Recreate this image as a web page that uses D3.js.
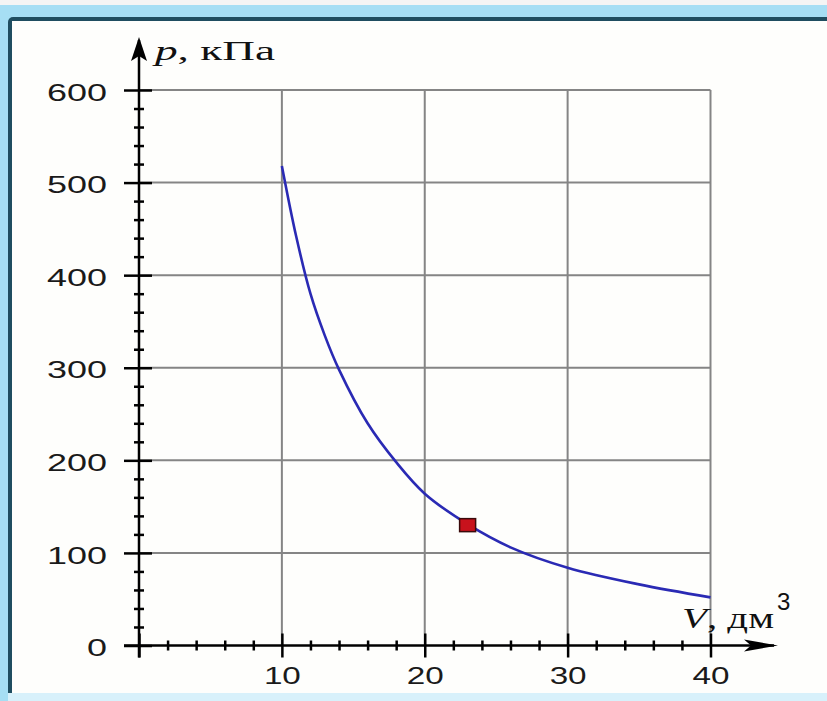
<!DOCTYPE html>
<html>
<head>
<meta charset="utf-8">
<title>p(V)</title>
<script src="https://d3js.org/d3.v7.min.js"></script>
<style>
body { margin: 0; background: #f4f4f4; }
.grid line { stroke: #858585; stroke-width: 2; }
.axis path, .axis line { stroke: #000; stroke-width: 2.5; }
.axis text { font-family: "Liberation Sans", Arial, sans-serif; font-size: 24px; fill: #1a1a1a; }
.curve { fill: none; stroke: #2a2ab4; stroke-width: 2.6; }
</style>
</head>
<body>
<div id="chart"></div>
<script>
// values
var volume   = [10, 11, 12, 13, 14, 16, 18, 20, 23, 26, 30, 35, 40];   // V, dm3
var pressure = [518, 442, 380, 335, 298, 240, 198, 164, 131, 106, 84, 66, 52]; // p, kPa
var markerPoint = [23, 130];
var xMajor = [0, 10, 20, 30, 40];
var yMajor = [0, 100, 200, 300, 400, 500, 600];
var xMinor = [2, 4, 6, 8, 12, 14, 16, 18, 22, 24, 26, 28, 32, 34, 36, 38];
var yMinor = [20, 40, 60, 80, 120, 140, 160, 180, 220, 240, 260, 280, 320, 340, 360, 380, 420, 440, 460, 480, 520, 540, 560, 580];

var W = 827, H = 701;
var svg = d3.select("#chart").append("svg")
    .attr("width", W).attr("height", H);

// the frame round the picture
svg.append("rect").attr("x", 0).attr("y", 5).attr("width", W).attr("height", H - 5)
    .attr("fill", "#a6def4");
svg.append("rect").attr("x", 8).attr("y", 17).attr("width", W).attr("height", 690)
    .attr("rx", 5).attr("fill", "#1f4d60");
svg.append("rect").attr("x", 12).attr("y", 21).attr("width", W - 12).attr("height", 672)
    .attr("fill", "#fefefc");
svg.append("rect").attr("x", 0).attr("y", 693).attr("width", W).attr("height", 8)
    .attr("fill", "#d8f1fb");
svg.append("rect").attr("x", 0).attr("y", 693).attr("width", 8).attr("height", 8)
    .attr("fill", "#a6def4");

// scales
var x = d3.scaleLinear().domain([0, 40]).range([139, 710.5]);
var y = d3.scaleLinear().domain([0, 600]).range([645.5, 90]);

// grid
var grid = svg.append("g").attr("class", "grid");
grid.selectAll(".gv").data(xMajor.slice(1)).enter().append("line")
    .attr("x1", function(d) { return x(d); }).attr("x2", function(d) { return x(d); })
    .attr("y1", y(0)).attr("y2", y(600));
grid.selectAll(".gh").data(yMajor.slice(1)).enter().append("line")
    .attr("x1", x(0)).attr("x2", x(40))
    .attr("y1", function(d) { return y(d); }).attr("y2", function(d) { return y(d); });

// curve
var line = d3.line()
    .x(function(d, i) { return x(volume[i]); })
    .y(function(d) { return y(d); })
    .curve(d3.curveCatmullRom.alpha(0.5));
svg.append("path").datum(pressure).attr("class", "curve").attr("d", line);

// y axis
var yMinorAxis = svg.append("g").attr("class", "axis")
    .attr("transform", "translate(" + x(0) + ",0)")
    .call(d3.axisLeft(y).tickValues(yMinor).tickSizeOuter(0).tickFormat(""));
yMinorAxis.select(".domain").remove();
yMinorAxis.selectAll("line").attr("x1", -5).attr("x2", 5);

var yAxis = svg.append("g").attr("class", "axis")
    .attr("transform", "translate(" + x(0) + ",0)")
    .call(d3.axisLeft(y).tickValues(yMajor).tickSizeOuter(0).tickPadding(26));
yAxis.select(".domain").remove();
yAxis.selectAll("line").attr("x1", -15).attr("x2", 13);
yAxis.selectAll("text").attr("dy", "0.42em")
    .attr("textLength", function(d) { return String(d).length * 20; })
    .attr("lengthAdjust", "spacingAndGlyphs");

// x axis
var xMinorAxis = svg.append("g").attr("class", "axis")
    .attr("transform", "translate(0," + y(0) + ")")
    .call(d3.axisBottom(x).tickValues(xMinor).tickSizeOuter(0).tickFormat(""));
xMinorAxis.select(".domain").remove();
xMinorAxis.selectAll("line").attr("y1", -5).attr("y2", 5);

var xAxis = svg.append("g").attr("class", "axis")
    .attr("transform", "translate(0," + y(0) + ")")
    .call(d3.axisBottom(x).tickValues(xMajor).tickSizeOuter(0)
      .tickFormat(function(d) { return d === 0 ? "" : d; }).tickPadding(15));
xAxis.select(".domain").remove();
xAxis.selectAll("line").attr("y1", -12).attr("y2", 12);
xAxis.selectAll("text")
    .attr("textLength", function(d) { return String(d).length * 18.5; })
    .attr("lengthAdjust", "spacingAndGlyphs");

// axis lines with arrows
svg.append("line")
    .attr("x1", x(0)).attr("x2", x(0)).attr("y1", y(0) + 12).attr("y2", 40)
    .attr("stroke", "#000").attr("stroke-width", 2.5);
svg.append("line")
    .attr("x1", x(0) - 15).attr("x2", 774).attr("y1", y(0)).attr("y2", y(0))
    .attr("stroke", "#000").attr("stroke-width", 2.5);
svg.append("path")
    .attr("d", "M" + x(0) + ",37 L" + (x(0) + 8) + ",61 L" + x(0) + ",56 L" + (x(0) - 8) + ",61 Z")
    .attr("fill", "#000");
svg.append("path")
    .attr("d", "M778," + y(0) + " L744," + (y(0) - 6) + " L751," + y(0) + " L744," + (y(0) + 6) + " Z")
    .attr("fill", "#000");

// marked state
svg.append("rect")
    .attr("x", x(markerPoint[0]) - 8).attr("y", y(markerPoint[1]) - 6.5)
    .attr("width", 16).attr("height", 13)
    .attr("fill", "#c8121c").attr("stroke", "#3a0a0a").attr("stroke-width", 1.5);

// axis titles
var pt = svg.append("text").attr("x", 155).attr("y", 60)
    .attr("font-family", "'Liberation Serif', 'Times New Roman', serif")
    .attr("font-size", 27).attr("fill", "#111")
    .attr("textLength", 120).attr("lengthAdjust", "spacingAndGlyphs");
pt.append("tspan").attr("font-style", "italic").text("p");
pt.append("tspan").text(", кПа");

var vt = svg.append("text").attr("x", 682).attr("y", 628)
    .attr("font-family", "'Liberation Serif', 'Times New Roman', serif")
    .attr("font-size", 30).attr("fill", "#111")
    .attr("textLength", 92).attr("lengthAdjust", "spacingAndGlyphs");
vt.append("tspan").attr("font-style", "italic").text("V");
vt.append("tspan").text(", дм");
svg.append("text").attr("x", 777).attr("y", 610)
    .attr("font-family", "'Liberation Sans', Arial, sans-serif")
    .attr("font-size", 24).attr("fill", "#111").text("3");
</script>
</body>
</html>
